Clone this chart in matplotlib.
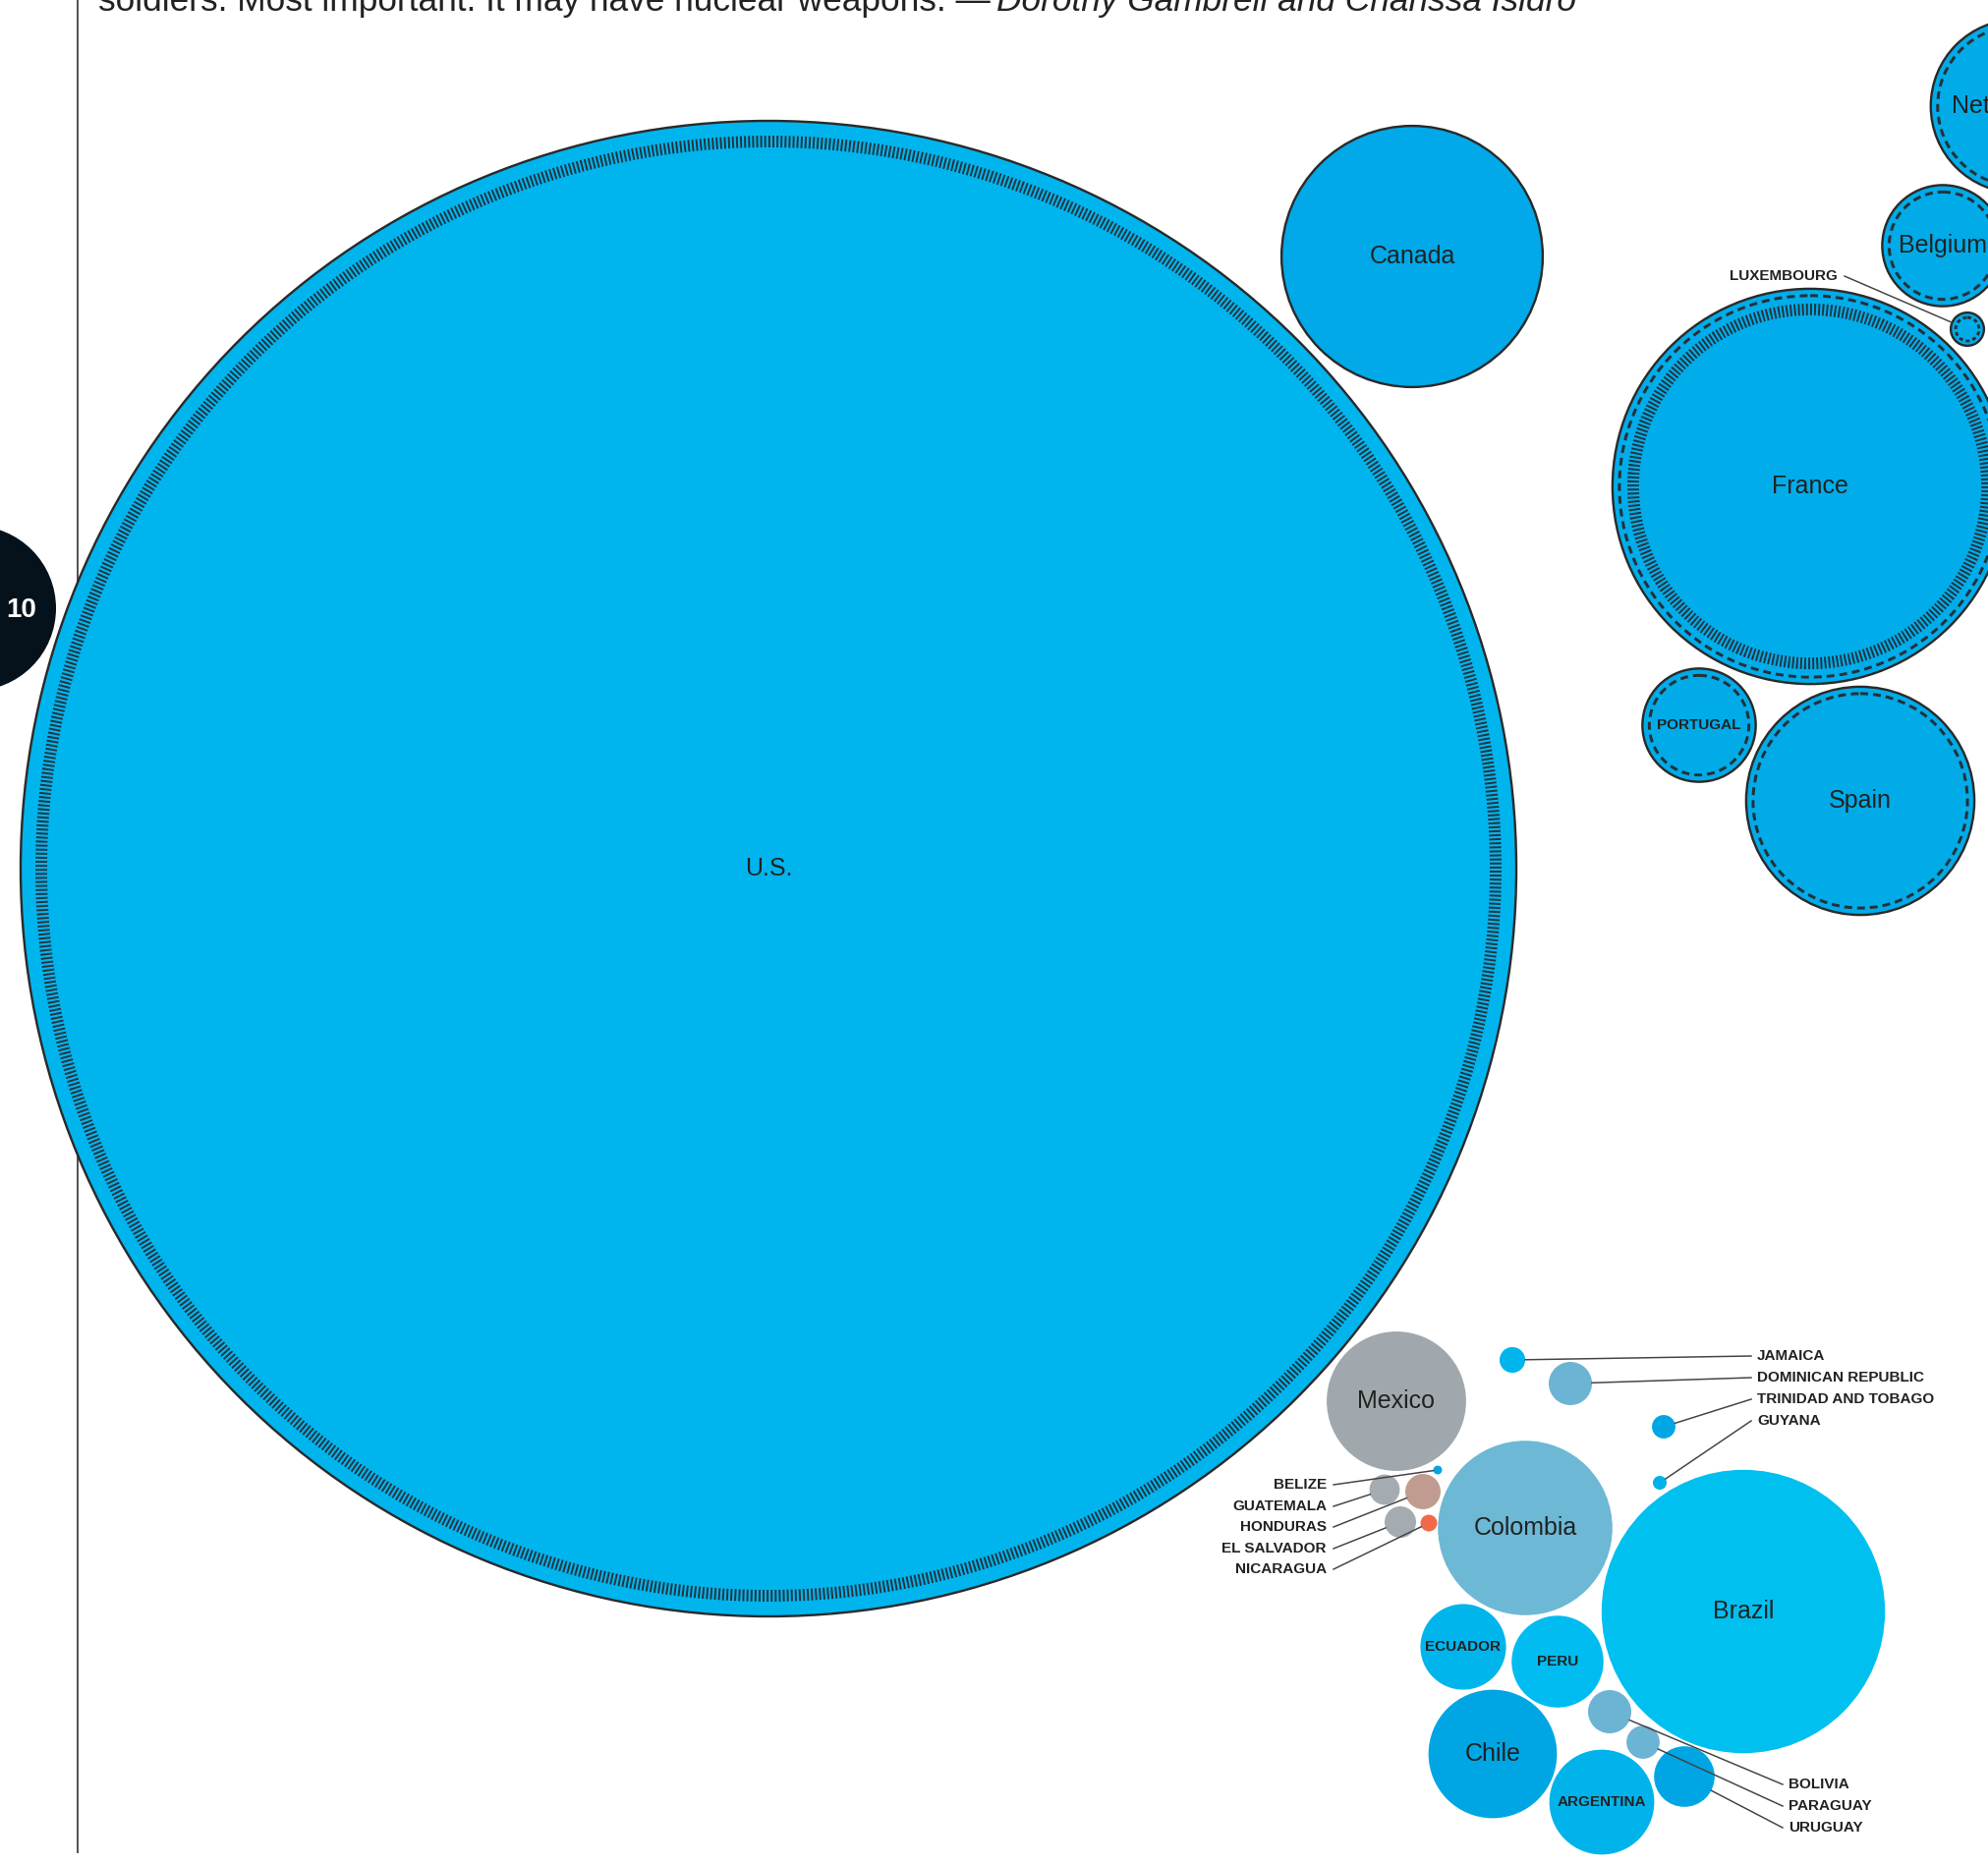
import numpy as np
import matplotlib
matplotlib.use("Agg")
import matplotlib.pyplot as plt
from matplotlib.patches import Circle
from matplotlib import font_manager

plt.rcParams['lines.scale_dashes'] = False
plt.rcParams['font.family'] = ['Liberation Sans', 'DejaVu Sans']

# bubble values (read from the circle areas, US = 610)
countries = ["U.S.", "Canada", "Netherlands", "Belgium", "Luxembourg", "France", "Portugal", "Spain",
             "Mexico", "Belize", "Guatemala", "Honduras", "El Salvador", "Nicaragua",
             "Jamaica", "Dominican Republic", "Trinidad and Tobago", "Guyana",
             "Colombia", "Brazil", "Ecuador", "Peru", "Chile", "Argentina",
             "Bolivia", "Paraguay", "Uruguay"]
values = [610, 18.6, 8.2, 4.0, 0.30, 42.6, 3.5, 14.2,
          5.3, 0.021, 0.25, 0.34, 0.27, 0.076,
          0.18, 0.51, 0.15, 0.052,
          8.3, 21.9, 2.0, 2.3, 4.5, 3.0,
          0.51, 0.30, 1.0]

nato = ["U.S.", "Canada", "Netherlands", "Belgium", "Luxembourg", "France", "Portugal", "Spain"]
eu = ["Netherlands", "Belgium", "Luxembourg", "France", "Portugal", "Spain"]
nuclear = ["U.S.", "France"]

headline = "soldiers. Most important: It may have nuclear weapons. \u2014"
byline = "Dorothy Gambrell and Charissa Isidro"
rank = "10"

# packed layout (pixel coordinates of the bubble centres)
centers = {
    "U.S.": (782, 884), "Canada": (1437, 261), "Netherlands": (2053, 108),
    "Belgium": (1977, 250), "Luxembourg": (2002, 335), "France": (1842, 495),
    "Portugal": (1729, 738), "Spain": (1893, 815),
    "Mexico": (1421, 1426), "Belize": (1463, 1496), "Guatemala": (1409, 1516),
    "Honduras": (1448, 1518), "El Salvador": (1425, 1549), "Nicaragua": (1454, 1550),
    "Jamaica": (1539, 1384), "Dominican Republic": (1598, 1408),
    "Trinidad and Tobago": (1693, 1452), "Guyana": (1689, 1509),
    "Colombia": (1552, 1555), "Brazil": (1774, 1640), "Ecuador": (1489, 1676),
    "Peru": (1585, 1691), "Chile": (1519, 1785), "Argentina": (1630, 1834),
    "Bolivia": (1638, 1742), "Paraguay": (1672, 1773), "Uruguay": (1714, 1808),
}

colors = {
    "U.S.": "#00B5EE", "Canada": "#01A9E8", "Netherlands": "#00ABE8", "Belgium": "#00ABE8",
    "Luxembourg": "#00ABE8", "France": "#00ADEA", "Portugal": "#00ABE8", "Spain": "#00ABE8",
    "Mexico": "#A0A8AD", "Belize": "#00A7E4", "Guatemala": "#A4ABB1", "Honduras": "#C19B90",
    "El Salvador": "#A4ABB1", "Nicaragua": "#F2694A", "Jamaica": "#00B5EC",
    "Dominican Republic": "#6CB4D3", "Trinidad and Tobago": "#00A7E4", "Guyana": "#00B2EA",
    "Colombia": "#6CB8D5", "Brazil": "#00C0F0", "Ecuador": "#00B5EC", "Peru": "#00BCF0",
    "Chile": "#00A6E4", "Argentina": "#00B4EB", "Bolivia": "#6CB4D3", "Paraguay": "#6CB4D3",
    "Uruguay": "#00A6E4",
}

big_labels = ["U.S.", "Canada", "Netherlands", "Belgium", "France", "Spain",
              "Mexico", "Colombia", "Brazil", "Chile"]
small_labels = ["Portugal", "Ecuador", "Peru", "Argentina"]

# callouts: country -> (label x, label y, alignment)
callouts = {
    "Luxembourg": (1870, 281, "right"),
    "Belize": (1350, 1511, "right"), "Guatemala": (1350, 1533, "right"),
    "Honduras": (1350, 1554, "right"), "El Salvador": (1350, 1576, "right"),
    "Nicaragua": (1350, 1597, "right"),
    "Jamaica": (1788, 1380, "left"), "Dominican Republic": (1788, 1402, "left"),
    "Trinidad and Tobago": (1788, 1424, "left"), "Guyana": (1788, 1446, "left"),
    "Bolivia": (1820, 1816, "left"), "Paraguay": (1820, 1838, "left"),
    "Uruguay": (1820, 1860, "left"),
}

W, H = 2023, 1898
PX = 0.72  # points per pixel at dpi 100
K = 761 / np.sqrt(values[0])
INK = "#222222"

fig = plt.figure(figsize=(W / 100, H / 100), dpi=100)
ax = fig.add_axes([0, 0, 1, 1])
ax.set_xlim(0, W)
ax.set_ylim(H, 0)
ax.axis('off')

# rank marker and rule on the left
ax.add_patch(Circle((-27, 619), 84, fc="#06121B", ec="none", zorder=1))
ax.text(22, 621, rank, color="white", fontsize=20, fontweight="bold",
        ha="center", va="center", zorder=2)
ax.plot([79, 79], [0, 1885], color="#555555", lw=2 * PX, zorder=1)

radii = {}
for name, v in zip(countries, values):
    x, y = centers[name]
    r = K * np.sqrt(v)
    radii[name] = r
    edge = "#2A2A2A" if name in nato else "none"
    ax.add_patch(Circle((x, y), r, fc=colors[name], ec=edge,
                        lw=2.4 * PX if name in nato else 0, zorder=3))
    if name in eu:
        off, dash, gap = (5, 4, 3) if r < 30 else (7, 8, 5)
        ax.add_patch(Circle((x, y), r - off, fill=False, ec="#263038", lw=3 * PX,
                            ls=(0, (dash * PX, gap * PX)), zorder=4))
    if name in nuclear:
        off = 21 if name in eu else 21
        ax.add_patch(Circle((x, y), r - off, fill=False, ec="#26323C", lw=12 * PX,
                            ls=(0, (1.9 * PX, 2.2 * PX)), zorder=4))

for name in big_labels:
    x, y = centers[name]
    ax.text(x, y, name, fontsize=18, color=INK, ha="center", va="center", zorder=6)
for name in small_labels:
    x, y = centers[name]
    ax.text(x, y, name.upper(), fontsize=11, fontweight="bold", color=INK,
            ha="center", va="center", zorder=6)

for name, (lx, ly, ha) in callouts.items():
    ax.text(lx, ly, name.upper(), fontsize=11, fontweight="bold", color=INK,
            ha=ha, va="center", zorder=6)
    ex = lx + 7 if ha == "right" else lx - 6
    cx, cy = centers[name]
    d = np.array([ex - cx, ly - cy])
    d = d / np.hypot(*d)
    sx, sy = cx + d[0] * radii[name], cy + d[1] * radii[name]
    ax.plot([sx, ex], [sy, ly], color="#444444", lw=1.5 * PX, zorder=5)

# headline text, cut off by the top edge
fams = {f.name for f in font_manager.fontManager.ttflist}
head_font = "Liberation Sans Narrow" if "Liberation Sans Narrow" in fams else "Liberation Sans"
t1 = ax.text(100, 11, headline, fontsize=30, family=head_font, color=INK, va="baseline")
t2 = ax.text(100, 11, byline, fontsize=30, family=head_font, style="italic",
             color=INK, va="baseline")
fig.canvas.draw()
r_ = fig.canvas.get_renderer()
w1 = t1.get_window_extent(r_).width
w2 = t2.get_window_extent(r_).width
size = 30 * 1494 / (w1 + w2)
t1.set_fontsize(size)
t2.set_fontsize(size)
fig.canvas.draw()
w1 = t1.get_window_extent(r_).width
t2.set_x(100 + w1 + 6)

fig.savefig("out.png", dpi=100, facecolor="white")
